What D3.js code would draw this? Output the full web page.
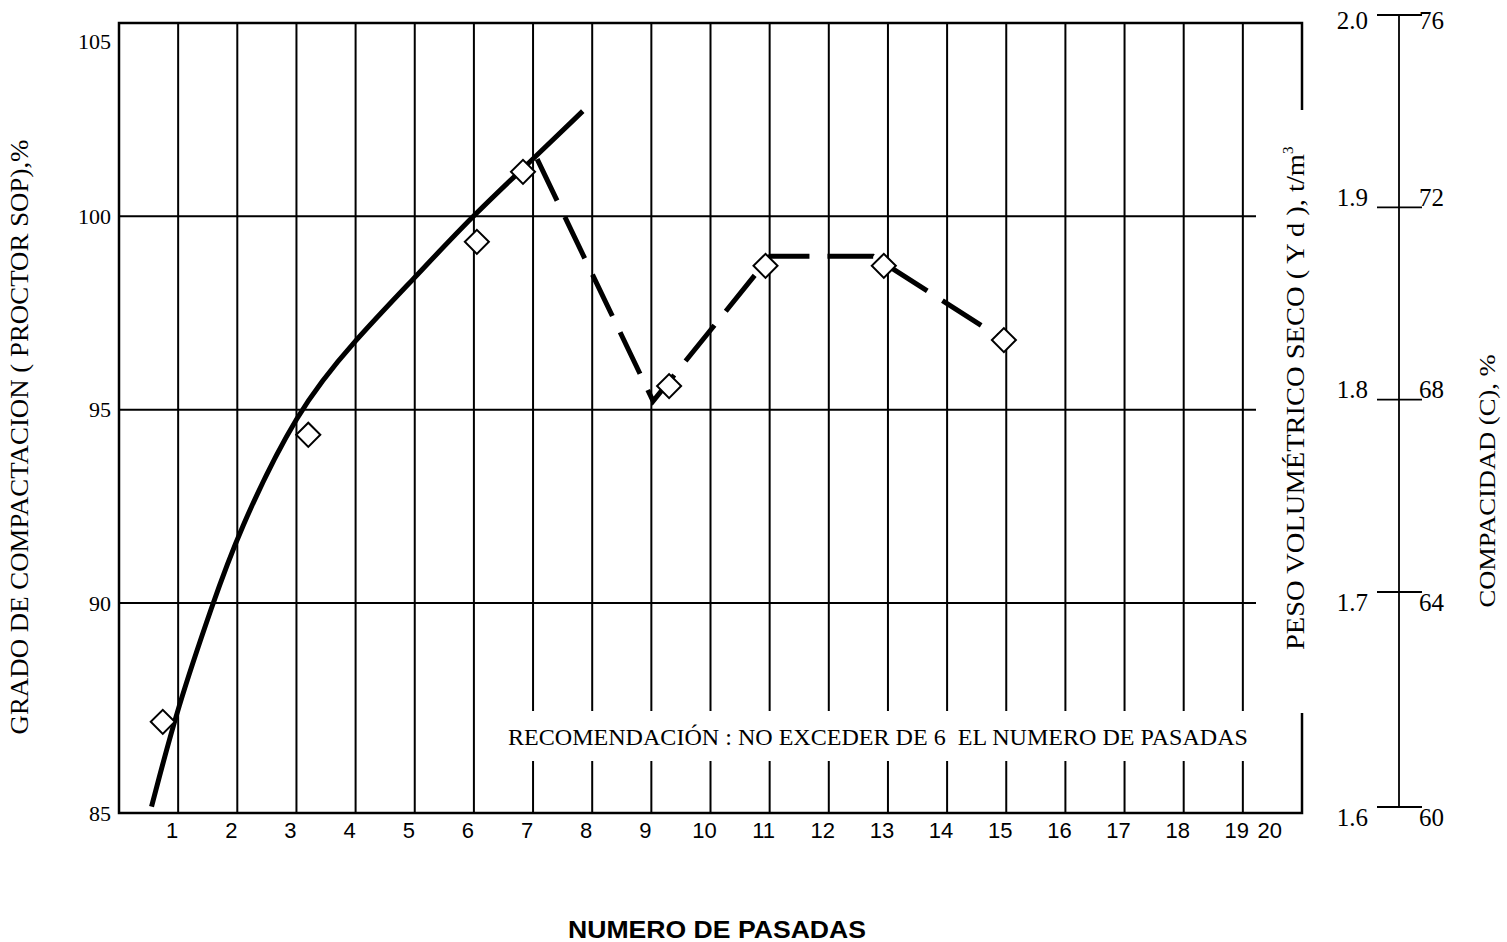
<!DOCTYPE html>
<html>
<head>
<meta charset="utf-8">
<script src="https://cdn.jsdelivr.net/npm/d3@7"></script>
<style>
  body { margin: 0; background: #fff; }
  svg { display: block; }
</style>
</head>
<body>
<div id="chart"></div>
<script>
// number of passes on the x axis
var passes     = d3.range(1, 21);
var gradoTicks = [85, 90, 95, 100, 105];
var gradoGrid  = [90, 95, 100];
var pesoTicks  = [1.6, 1.7, 1.8, 1.9, 2.0];
var compTicks  = [60, 64, 68, 72, 76];

// measured points (diamonds)
var pointX = [0.74, 3.20, 6.05, 6.83, 9.30, 10.93, 12.93, 14.96];
var pointY = [87.17, 94.35, 99.34, 101.15, 95.61, 98.72, 98.72, 96.80];

// fitted solid curve
var fitX = [0.55, 0.99, 1.59, 2.00, 3.01, 3.99, 4.99, 5.97, 6.95, 7.84];
var fitY = [85.15, 87.52, 90.00, 91.76, 95.00, 96.80, 98.40, 100.00, 101.41, 102.72];

// dashed trend
var trendX = [7.07, 9.03, 11.01, 12.75, 14.96];
var trendY = [101.48, 95.22, 98.97, 98.97, 96.80];

var W = 1507, H = 942,
    plotL = 119, plotR = 1302, plotT = 23, plotB = 813,
    serif = "'Liberation Serif', 'Times New Roman', serif",
    sans  = "'Liberation Sans', Arial, sans-serif";

var x  = d3.scaleLinear().domain([0, 20]).range([plotL, plotR]);
var y  = d3.scaleLinear().domain([85, 90, 105]).range([plotB, 603, plotT]);
var yd = d3.scaleLinear().domain([1.6, 1.7, 2.0]).range([807, 592, 15]);
var yc = d3.scaleLinear().domain([60, 64, 76]).range([807, 592, 15]);
var axisX = 1399;

var svg = d3.select("#chart")
  .append("svg")
  .attr("width", W)
  .attr("height", H)
;

// vertical grid
svg.append("g").selectAll("line")
  .data(d3.range(1, 20))
  .enter().append("line")
  .attr("x1", function(d) { return x(d); })
  .attr("x2", function(d) { return x(d); })
  .attr("y1", plotT)
  .attr("y2", plotB)
  .style("stroke", "#000")
  .style("stroke-width", 2)
;

// horizontal grid
svg.append("g").selectAll("line")
  .data(gradoGrid)
  .enter().append("line")
  .attr("x1", plotL)
  .attr("x2", 1256)
  .attr("y1", function(d) { return y(d); })
  .attr("y2", function(d) { return y(d); })
  .style("stroke", "#000")
  .style("stroke-width", 2)
;

// frame
svg.append("rect")
  .attr("x", plotL)
  .attr("y", plotT)
  .attr("width", plotR - plotL)
  .attr("height", plotB - plotT)
  .style("fill", "none")
  .style("stroke", "#000")
  .style("stroke-width", 2.5)
;

// white boxes behind the note and the right title
svg.append("rect")
  .attr("x", 500).attr("y", 711)
  .attr("width", 762).attr("height", 50)
  .style("fill", "#fff")
;
svg.append("rect")
  .attr("x", 1256).attr("y", 110)
  .attr("width", 70).attr("height", 603)
  .style("fill", "#fff")
;

// solid fitted curve
var curve = d3.line()
  .x(function(d) { return x(d[0]); })
  .y(function(d) { return y(d[1]); })
  .curve(d3.curveBasis)
;
svg.append("path")
  .attr("d", curve(d3.zip(fitX, fitY)))
  .style("fill", "none")
  .style("stroke", "#000")
  .style("stroke-width", 5)
;

// dashed trend
var trend = d3.line()
  .x(function(d) { return x(d[0]); })
  .y(function(d) { return y(d[1]); })
;
svg.append("path")
  .attr("d", trend(d3.zip(trendX, trendY)))
  .style("fill", "none")
  .style("stroke", "#000")
  .style("stroke-width", 5)
  .style("stroke-dasharray", "46,18")
;

// diamonds
var diamond = d3.symbol().type(d3.symbolSquare).size(289);
svg.append("g").selectAll("path")
  .data(d3.zip(pointX, pointY))
  .enter().append("path")
  .attr("d", diamond)
  .attr("transform", function(d) { return "translate(" + x(d[0]) + "," + y(d[1]) + ") rotate(45)"; })
  .style("fill", "#fff")
  .style("stroke", "#000")
  .style("stroke-width", 2)
;

// left tick labels
svg.append("g").selectAll("text")
  .data(gradoTicks)
  .enter().append("text")
  .attr("x", 111)
  .attr("y", function(d) { return Math.max(y(d), plotT + 18); })
  .attr("dy", "0.35em")
  .attr("text-anchor", "end")
  .style("font", "22px " + serif)
  .text(function(d) { return d; })
;

// x tick labels
svg.append("g").selectAll("text")
  .data(passes)
  .enter().append("text")
  .attr("x", function(d) { return Math.min(x(d) - 6, x(19) + 27); })
  .attr("y", 838)
  .attr("text-anchor", "middle")
  .style("font", "22px " + sans)
  .text(function(d) { return d; })
;

// note
svg.append("text")
  .attr("x", 508)
  .attr("y", 745)
  .attr("textLength", 740)
  .attr("lengthAdjust", "spacingAndGlyphs")
  .style("font", "23px " + serif)
  .style("white-space", "pre")
  .text("RECOMENDACIÓN : NO EXCEDER DE 6  EL NUMERO DE PASADAS")
;

// right double scale
svg.append("line")
  .attr("x1", axisX).attr("x2", axisX)
  .attr("y1", yd(2.0)).attr("y2", yd(1.6))
  .style("stroke", "#000")
  .style("stroke-width", 1.8)
;
svg.append("g").selectAll("line")
  .data(pesoTicks)
  .enter().append("line")
  .attr("x1", axisX - 22)
  .attr("x2", axisX + 23)
  .attr("y1", function(d) { return yd(d); })
  .attr("y2", function(d) { return yd(d); })
  .style("stroke", "#000")
  .style("stroke-width", 1.8)
;

function labelShift(v, scale, max) {
  if (v === max) return 5;
  return scale(v) < 450 ? -10 : 10;
}

svg.append("g").selectAll("text")
  .data(pesoTicks)
  .enter().append("text")
  .attr("x", 1368)
  .attr("y", function(d) { return yd(d) + labelShift(d, yd, 2.0); })
  .attr("dy", "0.35em")
  .attr("text-anchor", "end")
  .style("font", "25px " + serif)
  .text(function(d) { return d.toFixed(1); })
;
svg.append("g").selectAll("text")
  .data(compTicks)
  .enter().append("text")
  .attr("x", 1419)
  .attr("y", function(d) { return yc(d) + labelShift(d, yc, 76); })
  .attr("dy", "0.35em")
  .style("font", "25px " + serif)
  .text(function(d) { return d; })
;

// axis titles
svg.append("text")
  .attr("transform", "translate(28,437) rotate(-90)")
  .attr("text-anchor", "middle")
  .attr("textLength", 595)
  .attr("lengthAdjust", "spacingAndGlyphs")
  .style("font", "25px " + serif)
  .text("GRADO DE COMPACTACION ( PROCTOR SOP),%")
;

var peso = svg.append("text")
  .attr("transform", "translate(1304,650) rotate(-90)")
  .style("font", "25px " + serif)
;
peso.append("tspan")
  .attr("textLength", 496)
  .attr("lengthAdjust", "spacingAndGlyphs")
  .text("PESO VOLUMÉTRICO SECO ( Y d ), t/m");
peso.append("tspan")
  .attr("dy", -11)
  .style("font-size", "15px")
  .text("3");

svg.append("text")
  .attr("transform", "translate(1495,481) rotate(-90)")
  .attr("text-anchor", "middle")
  .attr("textLength", 253)
  .attr("lengthAdjust", "spacingAndGlyphs")
  .style("font", "24px " + serif)
  .text("COMPACIDAD (C), %")
;

svg.append("text")
  .attr("x", 717)
  .attr("y", 938)
  .attr("text-anchor", "middle")
  .attr("textLength", 298)
  .attr("lengthAdjust", "spacingAndGlyphs")
  .style("font", "bold 23px " + sans)
  .text("NUMERO DE PASADAS")
;
</script>
</body>
</html>
